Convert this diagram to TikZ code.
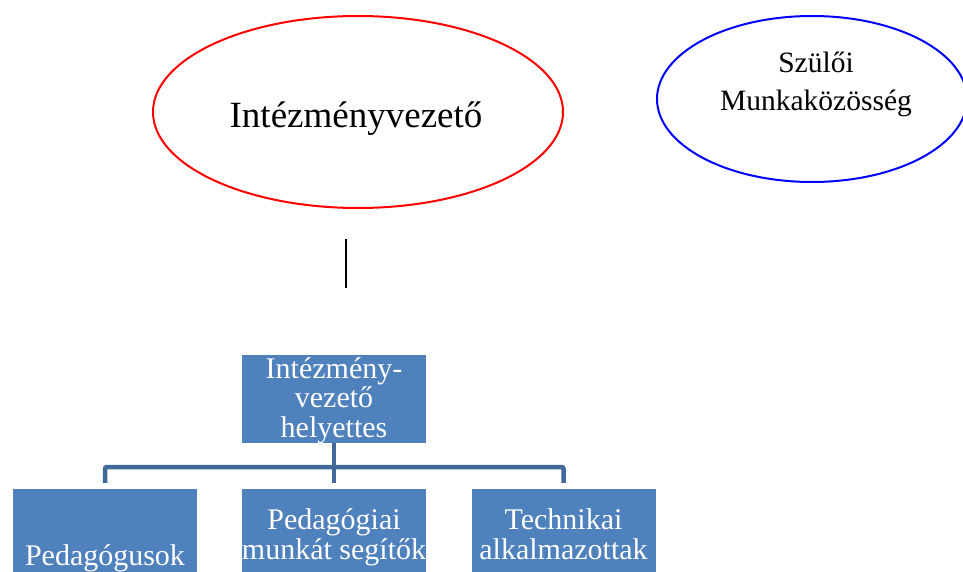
\documentclass[tikz,border=0pt]{standalone}
\usepackage{fontspec}
\setmainfont{Liberation Serif}
\usetikzlibrary{shapes.geometric,calc}
\definecolor{boxblue}{HTML}{4F81BD}
\definecolor{linkblue}{HTML}{41699A}
\begin{document}
\begin{tikzpicture}[x=1pt,y=-1pt,
  orgbox/.style={rectangle, fill=boxblue, draw=none, inner sep=0pt, minimum width=184pt, minimum height=88pt},
  boxtext/.style={text=white, font=\fontsize{30}{29.5}\selectfont, align=center, inner sep=0pt, anchor=base},
  link/.style={draw=linkblue, line width=4.5pt, rounded corners=2pt},
  oval/.style={ellipse, line width=2pt, inner sep=0pt}]
\useasboundingbox (0,0) rectangle (963,572);
\clip (0,0) rectangle (963,572);

\node[oval, draw=red, minimum width=410pt, minimum height=192pt] (head) at (358,112) {};
\node[anchor=base, inner sep=0pt, font=\fontsize{37}{44}\selectfont] (headtext) at (356,128) {Intézményvezető};
\node[oval, draw=blue, minimum width=310pt, minimum height=166pt] (parents) at (812,99) {};
\node[anchor=base, inner sep=0pt, align=center, font=\fontsize{29.5}{38}\selectfont] (parentstext) at (816,111) {Szülői\\Munkaközösség};

\coordinate (vtop) at (346,239);
\coordinate (vbot) at (346,288);
\draw[line width=1.8pt] (vtop) -- (vbot);

\node[orgbox] (deputy) at (334,399) {};
\node[boxtext] (deputytext) at (334,437) {Intézmény-\\vezető\\helyettes};

\node[orgbox, minimum height=91pt] (teachers) at (105,534.5) {};
\node[orgbox, minimum height=91pt] (helpers) at (334,534.5) {};
\node[orgbox, minimum height=91pt] (tech) at (563.5,534.5) {};
\node[boxtext] (teacherstext) at (105,565) {Pedagógusok};
\node[boxtext] (helperstext) at (334,559) {Pedagógiai\\munkát segítők};
\node[boxtext] (techtext) at (563.5,559) {Technikai\\alkalmazottak};

\coordinate (bus) at (334,467);
\draw[link] (deputy.south) -- (bus);
\draw[link] ($(teachers.north)+(0,-6)$) |- (bus) -| ($(tech.north)+(0,-6)$);
\draw[link] ($(helpers.north)+(0,-6)$) -- (bus);
\end{tikzpicture}
\end{document}
